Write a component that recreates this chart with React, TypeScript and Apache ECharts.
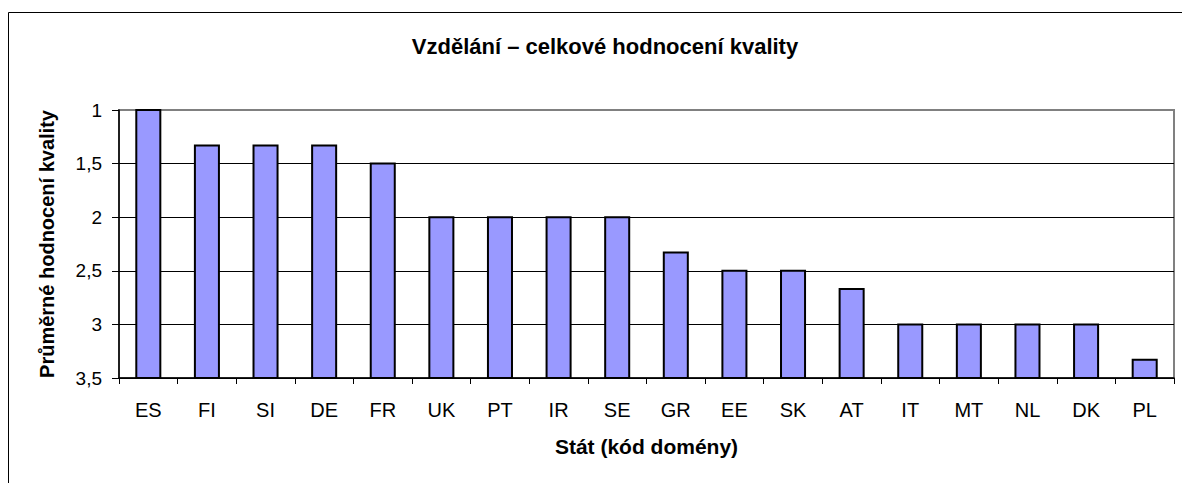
import React, { useEffect, useRef } from "react";
import * as echarts from "echarts";

const categories = ["ES", "FI", "SI", "DE", "FR", "UK", "PT", "IR", "SE", "GR", "EE", "SK", "AT", "IT", "MT", "NL", "DK", "PL"];
const values = [1, 1.33, 1.33, 1.33, 1.5, 2, 2, 2, 2, 2.33, 2.5, 2.5, 2.67, 3, 3, 3, 3, 3.33];
const axisMin = 1;
const axisMax = 3.5;
const axisStep = 0.5;
const titleText = "Vzdělání – celkové hodnocení kvality";
const xName = "Stát (kód domény)";
const yName = "Průměrné hodnocení kvality";

const FONT = "'Liberation Sans', Arial, sans-serif";

export default function App() {
  const ref = useRef<HTMLDivElement>(null);
  useEffect(() => {
    document.body.style.margin = "0";
    const chart = echarts.init(ref.current!, null, { renderer: "svg" });
    chart.setOption({
      animation: false,
      backgroundColor: "#fff",
      textStyle: { fontFamily: FONT },
      graphic: [
        {
          type: "rect",
          shape: { x: 8.5, y: 12.5, width: 1300, height: 600 },
          style: { fill: "none", stroke: "#000", lineWidth: 1 },
          silent: true,
          z: -10,
        },
      ],
      title: {
        text: titleText,
        left: 600,
        textAlign: "center",
        top: 30,
        textStyle: { fontFamily: FONT, fontSize: 22, fontWeight: "bold", color: "#000" },
      },
      grid: {
        left: 119,
        top: 110,
        right: 8,
        bottom: 105,
        show: true,
        borderColor: "#808080",
        borderWidth: 2,
        backgroundColor: "transparent",
      },
      xAxis: {
        type: "category",
        data: categories,
        boundaryGap: true,
        name: xName,
        nameLocation: "middle",
        nameGap: 58,
        nameTextStyle: { fontFamily: FONT, fontSize: 21, fontWeight: "bold", color: "#000" },
        axisLine: { lineStyle: { color: "#000", width: 1.5 } },
        axisTick: { show: true, alignWithLabel: false, length: 6, lineStyle: { color: "#000" } },
        axisLabel: { fontFamily: FONT, fontSize: 20, color: "#000", margin: 22, interval: 0 },
        splitLine: { show: false },
      },
      yAxis: {
        type: "value",
        inverse: true,
        min: axisMin,
        max: axisMax,
        interval: axisStep,
        name: yName,
        nameLocation: "middle",
        nameGap: 62,
        nameTextStyle: { fontFamily: FONT, fontSize: 20, fontWeight: "bold", color: "#000" },
        axisLine: { show: true, lineStyle: { color: "#000", width: 1.5 } },
        axisTick: { show: true, length: 7, lineStyle: { color: "#000" } },
        axisLabel: {
          fontFamily: FONT,
          fontSize: 19,
          color: "#000",
          margin: 17,
          formatter: (v: number) => String(v).replace(".", ","),
        },
        splitLine: {
          show: true,
          lineStyle: { color: ["transparent", "#000", "#000", "#000", "#000", "#000"], width: 1 },
        },
      },
      series: [
        {
          type: "custom",
          data: categories.map((c, i) => [i, values[i]]),
          encode: { x: 0, y: 1 },
          renderItem: (params: any, api: any) => {
            const i = api.value(0);
            const v = api.value(1);
            const top = api.coord([i, v]);
            const base = api.coord([i, axisMax]);
            const w = api.size([1, 0])[0] * 0.41;
            return {
              type: "rect",
              shape: { x: top[0] - w / 2, y: top[1], width: w, height: base[1] - top[1] },
              style: { fill: "#9999FF", stroke: "#000", lineWidth: 2 },
            };
          },
        },
      ],
    });
    return () => chart.dispose();
  }, []);
  return <div ref={ref} style={{ width: 1182, height: 483 }} />;
}
